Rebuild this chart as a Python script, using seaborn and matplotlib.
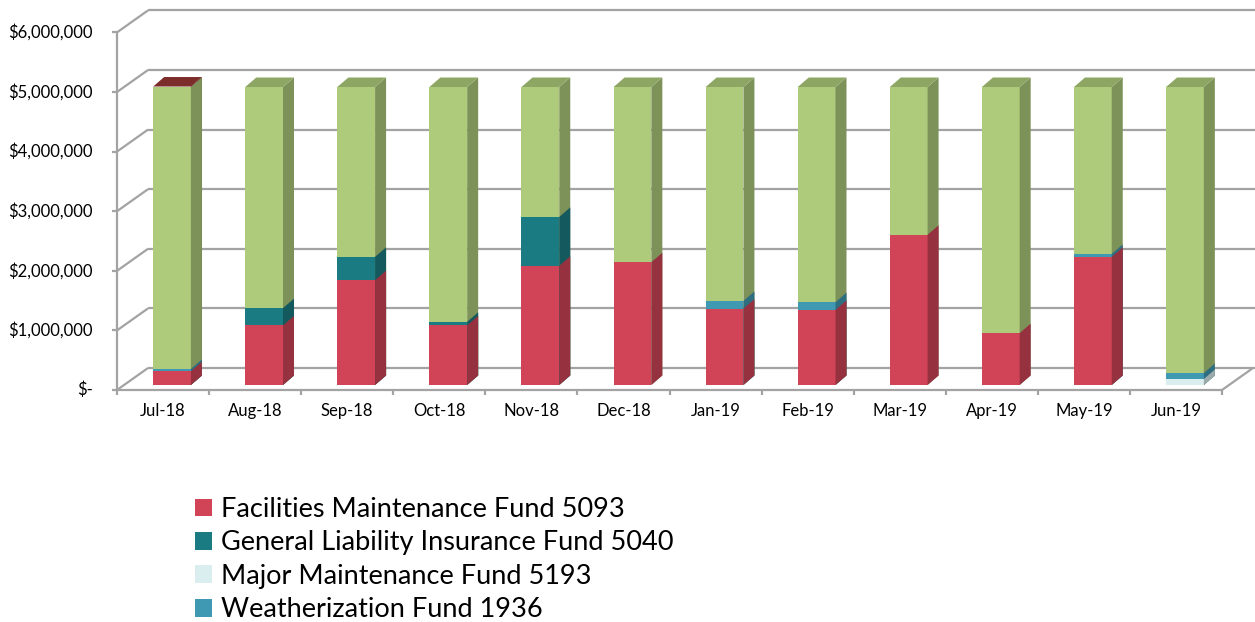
import matplotlib.pyplot as plt
import numpy as np
import pandas as pd
import seaborn as sns
from matplotlib.colors import to_rgb
from matplotlib.patches import Patch, Polygon

MONTHS = ["Jul-18", "Aug-18", "Sep-18", "Oct-18", "Nov-18", "Dec-18",
          "Jan-19", "Feb-19", "Mar-19", "Apr-19", "May-19", "Jun-19"]

FACILITIES_5093 = [230000, 1000000, 1760000, 1000000, 2000000, 2060000,
                   1280000, 1260000, 2520000, 870000, 2150000, 0]
LIABILITY_5040 = [0, 290000, 390000, 60000, 820000, 0, 0, 0, 0, 0, 0, 0]
MAJOR_MAINT_5193 = [0, 0, 0, 0, 0, 0, 0, 0, 0, 0, 0, 100000]
WEATHERIZATION_1936 = [40000, 0, 0, 0, 0, 0, 130000, 130000, 0, 0, 50000, 100000]
# green series (its legend entry is cut off in the original)
OTHER_FUNDS = [4730000, 3710000, 2850000, 3940000, 2180000, 2940000,
               3590000, 3610000, 2480000, 4130000, 2800000, 4800000]
# tiny dark-red cap only visible on Jul-18 top
CAP_FUND = [8000, 0, 0, 0, 0, 0, 0, 0, 0, 0, 0, 0]

Y_TICKS = [0, 1000000, 2000000, 3000000, 4000000, 5000000, 6000000]
Y_TICK_LABELS = ["$-", "$1,000,000", "$2,000,000", "$3,000,000",
                 "$4,000,000", "$5,000,000", "$6,000,000"]

SERIES = [
    ("Facilities Maintenance Fund 5093", FACILITIES_5093, "#D14457", True),
    ("General Liability Insurance Fund 5040", LIABILITY_5040, "#1B7B82", True),
    ("Major Maintenance Fund 5193", MAJOR_MAINT_5193, "#DAEEF0", True),
    ("Weatherization Fund 1936", WEATHERIZATION_1936, "#4099B3", True),
    ("Other", OTHER_FUNDS, "#ADCB7A", False),
    ("Cap", CAP_FUND, "#963634", False),
]

# 3D look, in pixels relative to the bar front plane
FRONT = (-9, -5)
BACK = (22, 17)
DEPTH = (11, 9.5)
GRID = "#A3A3A3"


def shade(color, f):
    return tuple(np.clip(np.array(to_rgb(color)) * f, 0, 1))


sns.set_style("white")
plt.rcParams["font.family"] = ["Lato", "DejaVu Sans"]

fig = plt.figure(figsize=(12.55, 6.22), dpi=100)
W, H = 1255, 622
ax = fig.add_axes([126 / W, (H - 385) / H, 1105 / W, 6 * 59.6 / H])
ax.set_xlim(-0.5, 11.5)
ax.set_ylim(0, 6000000)


def shift(x, y, dx, dy):
    px = ax.transData.transform((x, y))
    return ax.transData.inverted().transform(px + np.array([dx, dy]))


def seg(p, q, **kw):
    ax.plot([p[0], q[0]], [p[1], q[1]], color=GRID, lw=1.6,
            clip_on=False, solid_capstyle="butt", **kw)


# back wall and side wall gridlines
for v in Y_TICKS:
    seg(shift(-0.5, v, *BACK), shift(13, v, *BACK), zorder=1)
    seg(shift(-0.5, v, *FRONT), shift(-0.5, v, *BACK), zorder=1)
    seg(shift(-0.5, v, *FRONT), shift(-0.5, v, FRONT[0] - 5, FRONT[1]), zorder=1)
seg(shift(-0.5, 0, *FRONT), shift(-0.5, 6000000, *FRONT), zorder=6)
seg(shift(-0.5, 0, *FRONT), shift(11.5, 0, *FRONT), zorder=6)
seg(shift(11.5, 0, *FRONT), shift(11.5, 0, *BACK), zorder=6)
for i in range(13):
    seg(shift(i - 0.5, 0, *FRONT), shift(i - 0.5, 0, FRONT[0], FRONT[1] - 5), zorder=6)

# stacked bars (cumulative overlay, top series first)
values = np.array([s[1] for s in SERIES], dtype=float)
cum = np.cumsum(values, axis=0)
top_idx = [max(k for k in range(len(SERIES)) if values[k, i] > 0) for i in range(len(MONTHS))]

ddx, ddy = shift(0, 0, *DEPTH) - shift(0, 0, 0, 0)

for order, k in enumerate(reversed(range(len(SERIES)))):
    name, _, color, _ = SERIES[k]
    df = pd.DataFrame({"month": MONTHS, "total": cum[k]})
    n0 = len(ax.patches)
    sns.barplot(data=df, x="month", y="total", order=MONTHS, color=color,
                saturation=1, width=0.41, linewidth=0, ax=ax)
    z = 2 + order * 0.1
    for i, bar in enumerate(ax.patches[n0:]):
        bar.set_zorder(z)
        if values[k, i] <= 0:
            bar.set_visible(False)
            continue
        x0, w, h = bar.get_x(), bar.get_width(), bar.get_height()
        x1 = x0 + w
        side = Polygon([(x1, 0), (x1 + ddx, ddy), (x1 + ddx, h + ddy), (x1, h)],
                       closed=True, facecolor=shade(color, 0.72), lw=0, zorder=z)
        ax.add_patch(side)
        if top_idx[i] == k:
            top = Polygon([(x0, h), (x1, h), (x1 + ddx, h + ddy), (x0 + ddx, h + ddy)],
                          closed=True, facecolor=shade(color, 0.82), lw=0, zorder=z)
            ax.add_patch(top)

ax.axis("off")

# axis labels on the front plane
for v, lab in zip(Y_TICKS, Y_TICK_LABELS):
    p = shift(-0.5, v, FRONT[0] - 24, FRONT[1])
    ax.text(p[0], p[1], lab, ha="right", va="center", fontsize=12,
            color="#000000", clip_on=False)
for i, m in enumerate(MONTHS):
    p = shift(i, 0, FRONT[0], FRONT[1] - 21)
    ax.text(p[0], p[1], m, ha="center", va="center", fontsize=12,
            color="#000000", clip_on=False)

handles = [Patch(facecolor=c, edgecolor="none", label=n) for n, _, c, show in SERIES if show]
fig.legend(handles=handles, loc="upper left", bbox_to_anchor=(195 / W, (H - 497) / H),
           frameon=False, fontsize=19.5, handlelength=0.63, handleheight=0.63,
           handletextpad=0.33, labelspacing=0.31, borderpad=0, borderaxespad=0,
           labelcolor="#000000")

fig.savefig("out.png", dpi=100)
